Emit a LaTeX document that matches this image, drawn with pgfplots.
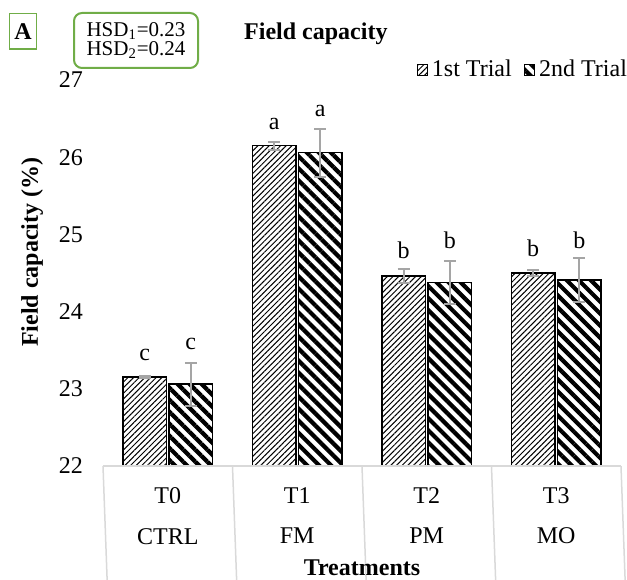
\documentclass[border=0pt]{standalone}
\usepackage{fontspec}
\setmainfont{Liberation Serif}
\usepackage{pgfplots}
\pgfplotsset{compat=1.18}
\usepackage{pgfplotstable}
\usetikzlibrary{patterns.meta}
\definecolor{hsdgreen}{HTML}{70AD47}
\definecolor{errgray}{HTML}{A5A5A5}
\definecolor{tablegray}{HTML}{D9D9D9}
\pgfplotsset{sqlegend/.style={legend image code/.code={\draw[##1, line width=0.5pt] (0pt,-2.6pt) rectangle (5.2pt,2.6pt);}}}

\pgfplotstableread{
x y1 e1 y2 e2 l1 l2 lab
0 23.15 0.01 23.06 0.28 23.364 23.503 c
1 26.15 0.05 26.06 0.31 26.361 26.534 a
2 24.46 0.09 24.38 0.28 24.690 24.824 b
3 24.50 0.04 24.41 0.28 24.711 24.824 b
}\datatable

\begin{document}
\begin{tikzpicture}[font=\fontsize{12}{14.4}\selectfont]
\begin{axis}[
  at={(51.5pt,56.5pt)}, anchor=south west,
  scale only axis, width=259pt, height=193pt,
  xmin=-0.5, xmax=3.5, ymin=22, ymax=27,
  clip=false,
  axis line style={draw=none},
  major tick length=0pt,
  ytick={22,23,24,25,26,27},
  xtick={0,1,2,3},
  xticklabels={{T0\\[5.8pt]CTRL},{T1\\[5.8pt]FM},{T2\\[5.8pt]PM},{T3\\[5.8pt]MO}},
  xticklabel style={align=center, anchor=north, yshift=-7.3pt},
  yticklabel style={xshift=-6.5pt},
  /pgf/number format/assume math mode=true,
  title={Field capacity},
  title style={at={(axis description cs:0.411,1.073)}, anchor=base, yshift=0pt, font=\bfseries\fontsize{12}{14.4}\selectfont},
  ylabel={Field capacity (\%)},
  ylabel style={at={(axis description cs:-0.137,0.554)}, anchor=center, font=\bfseries\fontsize{12}{14.4}\selectfont},
  xlabel={Treatments},
  xlabel style={at={(axis description cs:0.5,-0.2824)}, anchor=base, font=\bfseries\fontsize{12}{14.4}\selectfont},
  legend style={at={(axis description cs:1.02,1.026)}, anchor=east, draw=none, fill=none, inner sep=0pt,
    /tikz/every even column/.append style={column sep=4pt}},
  legend columns=2,
  legend cell align=left,
]
\addplot[ybar, bar width=0.333, bar shift=0pt, draw=black, line width=0.75pt,
  pattern={Lines[angle=45,distance=2pt,line width=0.5pt]},
  sqlegend,
  error bars/.cd, y dir=both, y explicit,
  error bar style={errgray, line width=1pt},
  error mark options={rotate=90, errgray, mark size=3pt, line width=1pt}]
  table[x expr=\thisrow{x}-0.178, y=y1, y error=e1]{\datatable};
\addlegendentry{1st Trial}
\addplot[ybar, bar width=0.333, bar shift=0pt, draw=black, line width=0.75pt,
  pattern={Lines[angle=-45,distance=4.25pt,line width=2.1pt]},
  sqlegend,
  error bars/.cd, y dir=both, y explicit,
  error bar style={errgray, line width=1pt},
  error mark options={rotate=90, errgray, mark size=3pt, line width=1pt}]
  table[x expr=\thisrow{x}+0.178, y=y2, y error=e2]{\datatable};
\addlegendentry{2nd Trial}
\addplot[draw=none, mark=none, forget plot, nodes near coords, point meta=explicit symbolic,
  nodes near coords style={anchor=base, inner sep=0pt}]
  table[x expr=\thisrow{x}-0.178, y=l1, meta=lab]{\datatable};
\addplot[draw=none, mark=none, forget plot, nodes near coords, point meta=explicit symbolic,
  nodes near coords style={anchor=base, inner sep=0pt}]
  table[x expr=\thisrow{x}+0.178, y=l2, meta=lab]{\datatable};
\draw[tablegray, line width=0.75pt] (axis cs:-0.5,22) -- (axis cs:3.5,22);
\draw[tablegray, line width=0.75pt] (axis cs:-0.5,22) -- ++(0,-42.5pt);
\draw[tablegray, line width=0.75pt] (axis cs:0.5,22) -- ++(0,-42.5pt);
\draw[tablegray, line width=0.75pt] (axis cs:1.5,22) -- ++(0,-42.5pt);
\draw[tablegray, line width=0.75pt] (axis cs:2.5,22) -- ++(0,-42.5pt);
\draw[tablegray, line width=0.75pt] (axis cs:3.5,22) -- ++(0,-42.5pt);
\end{axis}
\node[draw=hsdgreen, line width=1pt, rounded corners=4pt, minimum width=62pt, minimum height=27.5pt,
  align=left, inner sep=2pt, font=\fontsize{10.5}{9.5}\selectfont]
  at (68pt,269.25pt) {HSD\textsubscript{1}=0.23\\HSD\textsubscript{2}=0.24};
\node[draw=hsdgreen, line width=0.75pt, minimum width=13.6pt, minimum height=17.8pt, inner sep=0pt,
  font=\bfseries\fontsize{12}{14}\selectfont] at (11.5pt,273.9pt) {A};
\pgfresetboundingbox
\useasboundingbox (0pt,0pt) rectangle (313.5pt,289.5pt);
\end{tikzpicture}
\end{document}
